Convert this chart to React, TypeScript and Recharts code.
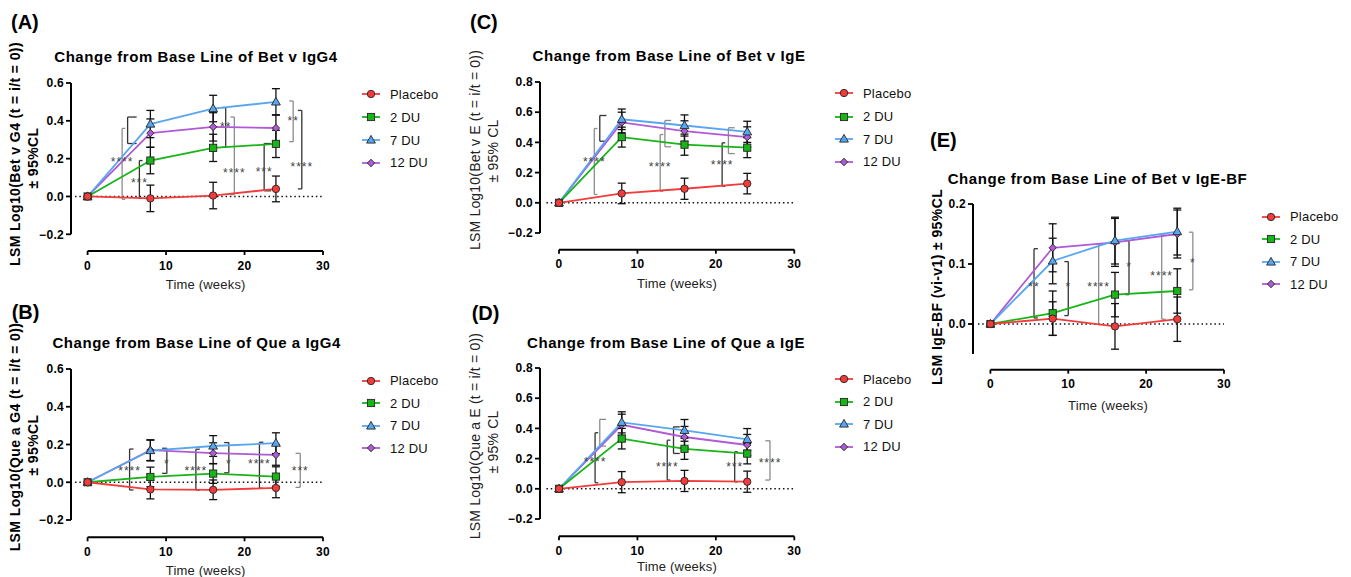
import React from "react";
import { LineChart, Line, XAxis, YAxis, ErrorBar, ReferenceLine, ReferenceDot } from "recharts";

const FONT = "'Liberation Sans', Arial, Helvetica, sans-serif";

const weeks = [0, 8, 16, 24];
const groups = ["Placebo", "2 DU", "7 DU", "12 DU"];
const colors = ["#f23c3c", "#18b418", "#58a6f0", "#b05ad6"];
const shapes = ["circle", "square", "triangle", "diamond"];

// (A) Bet v IgG4
const aPlacebo = [0, -0.01, 0.005, 0.04];
const a2DU = [0, 0.19, 0.257, 0.278];
const a7DU = [0, 0.383, 0.465, 0.5];
const a12DU = [0, 0.335, 0.368, 0.362];
const aCI = [
  [0, 0.07, 0.07, 0.068],
  [0, 0.07, 0.072, 0.072],
  [0, 0.072, 0.07, 0.07],
  [0, 0.075, 0.075, 0.07],
];

// (B) Que a IgG4
const bPlacebo = [0, -0.038, -0.04, -0.03];
const b2DU = [0, 0.028, 0.046, 0.03];
const b7DU = [0, 0.168, 0.192, 0.207];
const b12DU = [0, 0.17, 0.154, 0.145];
const bCI = [
  [0, 0.05, 0.052, 0.052],
  [0, 0.052, 0.052, 0.052],
  [0, 0.055, 0.055, 0.055],
  [0, 0.055, 0.055, 0.055],
];

// (C) Bet v IgE
const cPlacebo = [0, 0.062, 0.093, 0.127];
const c2DU = [0, 0.435, 0.385, 0.365];
const c7DU = [0, 0.553, 0.512, 0.47];
const c12DU = [0, 0.532, 0.475, 0.435];
const cCI = [
  [0, 0.068, 0.07, 0.068],
  [0, 0.066, 0.07, 0.066],
  [0, 0.068, 0.07, 0.07],
  [0, 0.068, 0.068, 0.068],
];

// (D) Que a IgE
const dPlacebo = [0, 0.044, 0.052, 0.047];
const d2DU = [0, 0.332, 0.265, 0.233];
const d7DU = [0, 0.44, 0.387, 0.327];
const d12DU = [0, 0.424, 0.343, 0.29];
const dCI = [
  [0, 0.07, 0.07, 0.07],
  [0, 0.068, 0.07, 0.068],
  [0, 0.07, 0.072, 0.072],
  [0, 0.07, 0.07, 0.07],
];

// (E) Bet v IgE-BF
const ePlacebo = [0, 0.009, -0.004, 0.008];
const e2DU = [0, 0.018, 0.049, 0.055];
const e7DU = [0, 0.105, 0.139, 0.154];
const e12DU = [0, 0.127, 0.136, 0.15];
const eCI = [
  [0, 0.028, 0.038, 0.037],
  [0, 0.037, 0.037, 0.037],
  [0, 0.038, 0.039, 0.039],
  [0, 0.04, 0.04, 0.04],
];

// significance brackets: x (weeks), hi/lo (value), stars + where they sit, dir 1 = "[" / -1 = "]"
type Bk = { x: number; hi: number; lo: number; stars?: string; at?: number; dir: number; len: number; grey?: boolean };

const aBrackets: Bk[] = [
  { x: 4.4, hi: 0.36, lo: -0.015, stars: "****", at: 0.19, dir: 1, len: 0.4, grey: true },
  { x: 5.1, hi: 0.42, lo: 0.28, dir: 1, len: 1.15 },
  { x: 6.6, hi: 0.19, lo: -0.01, stars: "***", at: 0.077, dir: 1, len: 0.4 },
  { x: 17.6, hi: 0.47, lo: 0.26, stars: "**", at: 0.371, dir: -1, len: 0.5 },
  { x: 18.7, hi: 0.42, lo: 0.01, stars: "****", at: 0.13, dir: -1, len: 0.5, grey: true },
  { x: 22.5, hi: 0.28, lo: 0.03, stars: "***", at: 0.133, dir: 1, len: 0.9 },
  { x: 26.2, hi: 0.505, lo: 0.29, stars: "**", at: 0.407, dir: -1, len: 0.5, grey: true },
  { x: 27.3, hi: 0.455, lo: 0.04, stars: "****", at: 0.161, dir: -1, len: 0.5 },
];

const bBrackets: Bk[] = [
  { x: 5.35, hi: 0.176, lo: -0.041, stars: "****", at: 0.065, dir: 1, len: 0.5 },
  { x: 10.1, hi: 0.18, lo: 0.047, stars: "*", at: 0.1, dir: -1, len: 0.6 },
  { x: 13.8, hi: 0.175, lo: -0.041, stars: "****", at: 0.065, dir: 1, len: 0.5 },
  { x: 18, hi: 0.21, lo: 0.05, stars: "*", at: 0.104, dir: -1, len: 0.6 },
  { x: 21.9, hi: 0.212, lo: -0.032, stars: "****", at: 0.1, dir: 1, len: 0.5 },
  { x: 27.1, hi: 0.153, lo: -0.027, stars: "***", at: 0.065, dir: -1, len: 0.6, grey: true },
];

const cBrackets: Bk[] = [
  { x: 5.2, hi: 0.578, lo: 0.408, dir: 1, len: 0.85 },
  { x: 4.5, hi: 0.492, lo: 0.055, stars: "****", at: 0.275, dir: 1, len: 0.4, grey: true },
  { x: 13.5, hi: 0.545, lo: 0.371, dir: 1, len: 0.8, grey: true },
  { x: 12.9, hi: 0.452, lo: 0.077, stars: "****", at: 0.242, dir: 1, len: 0.4, grey: true },
  { x: 21.6, hi: 0.497, lo: 0.326, dir: 1, len: 0.8, grey: true },
  { x: 20.8, hi: 0.397, lo: 0.11, stars: "****", at: 0.254, dir: 1, len: 0.4 },
];

const dBrackets: Bk[] = [
  { x: 5.2, hi: 0.46, lo: 0.283, dir: 1, len: 0.8, grey: true },
  { x: 4.6, hi: 0.371, lo: 0.04, stars: "****", at: 0.183, dir: 1, len: 0.4 },
  { x: 14.6, hi: 0.41, lo: 0.234, dir: 1, len: 0.8 },
  { x: 13.8, hi: 0.322, lo: 0.058, stars: "****", at: 0.152, dir: 1, len: 0.4 },
  { x: 22.4, hi: 0.245, lo: 0.046, stars: "***", at: 0.152, dir: 1, len: 0.4 },
  { x: 26.9, hi: 0.318, lo: 0.058, stars: "****", at: 0.175, dir: -1, len: 0.6, grey: true },
];

const eBrackets: Bk[] = [
  { x: 5.6, hi: 0.1255, lo: 0.01, stars: "**", at: 0.064, dir: 1, len: 0.5 },
  { x: 10, hi: 0.104, lo: 0.014, stars: "*", at: 0.063, dir: -1, len: 0.5 },
  { x: 13.9, hi: 0.133, lo: -0.001, stars: "****", at: 0.064, dir: 1, len: 0.4, grey: true },
  { x: 17.8, hi: 0.139, lo: 0.049, stars: "*", at: 0.096, dir: -1, len: 0.5 },
  { x: 22, hi: 0.15, lo: 0.008, stars: "****", at: 0.081, dir: 1, len: 0.5, grey: true },
  { x: 26, hi: 0.153, lo: 0.057, stars: "*", at: 0.104, dir: -1, len: 0.5, grey: true },
];

type Pt = [number, number];
interface PanelCfg {
  letter: string;
  letterAt: Pt;
  title: string;
  titleAt: Pt;
  yLabel: [string, number, number][];
  yBold: boolean;
  xLabelAt: Pt;
  legend: [number, number[]];
  series: number[][];
  ci: number[][];
  brackets: Bk[];
  yTicks: number[];
  axisLow: number;
  frame: { l: number; x0: number; r: number; t: number; lowPx: number; b: number };
}

const panels: PanelCfg[] = [
  {
    letter: "(A)", letterAt: [11, 22],
    title: "Change from Base Line of Bet v IgG4", titleAt: [196, 56],
    yLabel: [["LSM Log10(Bet v G4 (t = i/t = 0))", 14.5, 154], ["± 95%CL", 33, 158]], yBold: true,
    xLabelAt: [205.7, 284], legend: [362, [94.3, 117.3, 140, 162.7]],
    series: [aPlacebo, a2DU, a7DU, a12DU], ci: aCI, brackets: aBrackets,
    yTicks: [-0.2, 0, 0.2, 0.4, 0.6], axisLow: -0.2,
    frame: { l: 70.7, x0: 87.3, r: 322.7, t: 82.7, lowPx: 234, b: 250.7 },
  },
  {
    letter: "(B)", letterAt: [11.7, 311.7],
    title: "Change from Base Line of Que a IgG4", titleAt: [196.7, 341.7],
    yLabel: [["LSM Log10(Que a G4 (t = i/t = 0))", 15, 436.7], ["± 95%CL", 33.3, 445]], yBold: true,
    xLabelAt: [205.7, 570], legend: [362, [380.7, 403.3, 425.7, 448.3]],
    series: [bPlacebo, b2DU, b7DU, b12DU], ci: bCI, brackets: bBrackets,
    yTicks: [-0.2, 0, 0.2, 0.4, 0.6], axisLow: -0.2,
    frame: { l: 70.7, x0: 87.3, r: 322.7, t: 369, lowPx: 520, b: 537.3 },
  },
  {
    letter: "(C)", letterAt: [470, 22],
    title: "Change from Base Line of Bet v IgE", titleAt: [669, 55],
    yLabel: [["LSM Log10(Bet v E (t = i/t = 0))", 475, 150], ["± 95% CL", 493, 150.5]], yBold: false,
    xLabelAt: [677, 283.3], legend: [835, [93.3, 116.7, 139, 161.7]],
    series: [cPlacebo, c2DU, c7DU, c12DU], ci: cCI, brackets: cBrackets,
    yTicks: [-0.2, 0, 0.2, 0.4, 0.6, 0.8], axisLow: -0.2,
    frame: { l: 540, x0: 559, r: 794.3, t: 82.3, lowPx: 233.3, b: 250 },
  },
  {
    letter: "(D)", letterAt: [471.7, 313.3],
    title: "Change from Base Line of Que a IgE", titleAt: [666, 341.7],
    yLabel: [["LSM Log10(Que a E (t = i/t = 0))", 475, 435.7], ["± 95% CL", 493, 442]], yBold: false,
    xLabelAt: [677, 565.7], legend: [835, [379.3, 401.7, 424.3, 446.7]],
    series: [dPlacebo, d2DU, d7DU, d12DU], ci: dCI, brackets: dBrackets,
    yTicks: [-0.2, 0, 0.2, 0.4, 0.6, 0.8], axisLow: -0.2,
    frame: { l: 540, x0: 559, r: 794.3, t: 367.7, lowPx: 518.7, b: 536 },
  },
  {
    letter: "(E)", letterAt: [930, 140],
    title: "Change from Base Line of Bet v IgE-BF", titleAt: [1097.5, 178.3],
    yLabel: [["LSM IgE-BF (vi-v1) ± 95%CL", 936.7, 286.7]], yBold: true,
    xLabelAt: [1108, 405], legend: [1262, [216.7, 239, 261.7, 284]],
    series: [ePlacebo, e2DU, e7DU, e12DU], ci: eCI, brackets: eBrackets,
    yTicks: [0, 0.1, 0.2], axisLow: -0.05,
    frame: { l: 973.3, x0: 990.7, r: 1224.3, t: 204.3, lowPx: 324.3, b: 370 },
  },
];

function Marker({ cx, cy, shape, color }: { cx?: number; cy?: number; shape: string; color: string }) {
  if (cx == null || cy == null) return null;
  const st = { fill: color, stroke: "#262626", strokeWidth: 0.9 };
  if (shape === "circle") return <circle cx={cx} cy={cy} r={3.7} {...st} />;
  if (shape === "square") return <rect x={cx - 3.6} y={cy - 3.6} width={7.2} height={7.2} {...st} />;
  if (shape === "triangle")
    return <polygon points={`${cx},${cy - 4.6} ${cx + 4.4},${cy + 3.1} ${cx - 4.4},${cy + 3.1}`} {...st} />;
  return <polygon points={`${cx},${cy - 3.8} ${cx + 3.6},${cy} ${cx},${cy + 3.8} ${cx - 3.6},${cy}`} {...st} />;
}

const fmt = (v: number) => v.toFixed(1).replace("-", "\u2212");

function Label({ x, y, text, size, bold, rotate, left, color, ls }: any) {
  return (
    <div
      style={{
        position: "absolute",
        left: x,
        top: y,
        transform: `translate(${left ? "0" : "-50%"}, -50%)${rotate ? " rotate(-90deg)" : ""}`,
        fontSize: size,
        fontWeight: bold ? 700 : 400,
        color: color ?? "#000",
        letterSpacing: ls ?? 0,
        whiteSpace: "nowrap",
      }}
    >
      {text}
    </div>
  );
}

function Panel({ cfg }: { cfg: PanelCfg }) {
  const { l, x0, r, t, lowPx, b } = cfg.frame;
  const ML = 60, MT = 12, MR = 14, XH = 34, MB = 8;
  const yMax = cfg.yTicks[cfg.yTicks.length - 1];
  const k = (lowPx - t) / (yMax - cfg.yTicks[0]);
  const yMin = yMax - (b - t) / k;
  const xMin = -(x0 - l) / ((r - x0) / 30);

  const data = weeks.map((w, i) => {
    const row: any = { t: w };
    cfg.series.forEach((s, j) => {
      row[`s${j}`] = s[i];
      row[`e${j}`] = cfg.ci[j][i];
    });
    return row;
  });

  const tickStyle = { fill: "#000", fontSize: 12, fontWeight: 700, fontFamily: FONT, letterSpacing: 0.3 };

  return (
    <>
      <div style={{ position: "absolute", left: l - ML, top: t - MT }}>
        <LineChart
          width={r - l + ML + MR}
          height={b - t + MT + XH + MB}
          data={data}
          margin={{ top: MT, right: MR, left: 0, bottom: MB }}
        >
          <XAxis
            type="number"
            dataKey="t"
            domain={[xMin, 30]}
            ticks={[0, 10, 20, 30]}
            interval={0}
            allowDataOverflow
            axisLine={false}
            stroke="#000"
            tickLine={{ strokeWidth: 1.8 }}
            tickSize={4}
            tickMargin={6}
            height={XH}
            tick={tickStyle}
          />
          <YAxis
            type="number"
            domain={[yMin, yMax]}
            ticks={cfg.yTicks}
            interval={0}
            allowDataOverflow
            axisLine={false}
            stroke="#000"
            tickLine={{ strokeWidth: 1.8 }}
            tickSize={5}
            tickMargin={2}
            width={ML}
            tickFormatter={fmt}
            tick={tickStyle}
          />
          <ReferenceLine segment={[{ x: xMin, y: cfg.axisLow }, { x: xMin, y: yMax }]} stroke="#000" strokeWidth={2} />
          <ReferenceLine segment={[{ x: 0, y: yMin }, { x: 30, y: yMin }]} stroke="#000" strokeWidth={2} />
          <ReferenceLine
            segment={[{ x: -1.6, y: 0 }, { x: 30, y: 0 }]}
            stroke="#111"
            strokeWidth={1.5}
            strokeDasharray="1.5 2.8"
          />
          {cfg.brackets.flatMap((bk, i) => {
            const col = bk.grey ? "#8c8c8c" : "#333";
            const tx = bk.x + bk.dir * bk.len;
            const items = [
              <ReferenceLine key={`v${i}`} segment={[{ x: bk.x, y: bk.lo }, { x: bk.x, y: bk.hi }]} stroke={col} strokeWidth={1.3} />,
              <ReferenceLine key={`h${i}`} segment={[{ x: bk.x, y: bk.hi }, { x: tx, y: bk.hi }]} stroke={col} strokeWidth={1.3} />,
              <ReferenceLine key={`l${i}`} segment={[{ x: bk.x, y: bk.lo }, { x: tx, y: bk.lo }]} stroke={col} strokeWidth={1.3} />,
            ];
            if (bk.stars)
              items.push(
                <ReferenceDot
                  key={`s${i}`}
                  x={bk.x}
                  y={bk.at as number}
                  r={0}
                  shape={(p: any) => (
                    <text
                      x={p.cx}
                      y={p.cy + 5}
                      textAnchor="middle"
                      fontSize={12}
                      fontFamily={FONT}
                      fill="#444"
                      style={{ letterSpacing: 1 }}
                    >
                      {bk.stars}
                    </text>
                  )}
                />
              );
            return items;
          })}
          {[3, 2, 1, 0].map((j) => (
            <Line
              key={j}
              type="linear"
              dataKey={`s${j}`}
              stroke={colors[j]}
              strokeWidth={1.8}
              isAnimationActive={false}
              activeDot={false}
              dot={(p: any) => <Marker key={`${j}-${p.index}`} cx={p.cx} cy={p.cy} shape={shapes[j]} color={colors[j]} />}
            >
              <ErrorBar dataKey={`e${j}`} direction="y" width={4} stroke="#111" strokeWidth={1.3} isAnimationActive={false} />
            </Line>
          ))}
        </LineChart>
      </div>
      <Label x={cfg.letterAt[0]} y={cfg.letterAt[1]} text={cfg.letter} size={20} bold left />
      <Label x={cfg.titleAt[0]} y={cfg.titleAt[1]} text={cfg.title} size={15} bold ls={0.55} />
      {cfg.yLabel.map(([txt, x, y], i) => (
        <Label key={i} x={x} y={y} text={txt} size={14} bold={cfg.yBold} rotate ls={cfg.yBold ? 0.4 : 0.2} color={cfg.yBold ? "#000" : "#222"} />
      ))}
      <Label x={cfg.xLabelAt[0]} y={cfg.xLabelAt[1]} text="Time (weeks)" size={13} ls={0.2} color="#222" />
      {groups.map((g, j) => (
        <div
          key={g}
          style={{
            position: "absolute",
            left: cfg.legend[0],
            top: cfg.legend[1][j] - 9,
            height: 18,
            display: "flex",
            alignItems: "center",
          }}
        >
          <svg width={22} height={18} style={{ display: "block" }}>
            <line x1={0} y1={9} x2={18} y2={9} stroke={colors[j]} strokeWidth={1.8} />
            <Marker cx={9} cy={9} shape={shapes[j]} color={colors[j]} />
          </svg>
          <span style={{ marginLeft: 6, fontSize: 13, letterSpacing: 0.2, color: "#111" }}>{g}</span>
        </div>
      ))}
    </>
  );
}

export default function App() {
  return (
    <div
      style={{
        position: "absolute",
        left: 0,
        top: 0,
        width: 1351,
        height: 577,
        background: "#fff",
        fontFamily: FONT,
        overflow: "hidden",
      }}
    >
      {panels.map((p) => (
        <Panel key={p.letter} cfg={p} />
      ))}
    </div>
  );
}
